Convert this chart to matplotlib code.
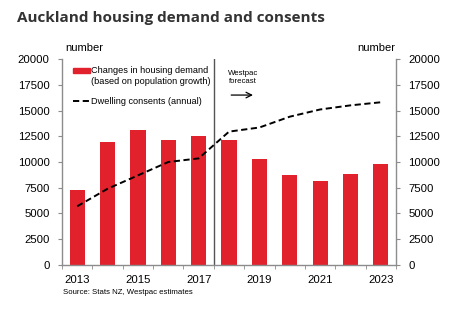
import matplotlib
matplotlib.use("Agg")
import matplotlib.pyplot as plt
from matplotlib.patches import Rectangle
from matplotlib.lines import Line2D

# ====== data ======
years = ["2013", "2014", "2015", "2016", "2017", "2018",
         "2019", "2020", "2021", "2022", "2023"]
demand = [7300, 11900, 13100, 12100, 12500, 12100,
          10300, 8750, 8150, 8800, 9850]
consents = [5700, 7400, 8700, 10000, 10350, 12950,
            13350, 14400, 15100, 15500, 15800]
yticks = [0, 2500, 5000, 7500, 10000, 12500, 15000, 17500, 20000]
forecast_start = 4.5   # split between actuals and forecasts

RED = "#e1222d"
GREY = "#8c8c8c"

plt.rcParams["font.family"] = ["Liberation Sans", "DejaVu Sans"]

fig = plt.figure(figsize=(4.76, 3.23), dpi=100)
ax = fig.add_axes([0.1303, 0.1796, 0.7017, 0.6377])

x = list(range(len(years)))
ax.bar(x, demand, width=0.5, color=RED, zorder=2)
ax.plot(x, consents, color="black", linestyle=(0, (3.2, 1.8)), linewidth=1.4, zorder=3)
ax.axvline(forecast_start, color="#555555", linewidth=1.0, zorder=1)

ax.set_xlim(-0.5, len(years) - 0.5)
ax.set_ylim(0, 20000)

# x axis: labels every other year, tick marks between bars
ax.set_xticks(x[::2])
ax.set_xticklabels(years[::2], fontsize=8.2)
ax.set_xticks([i - 0.5 for i in range(len(years) + 1)], minor=True)
ax.tick_params(axis="x", which="major", length=0, pad=7)
ax.tick_params(axis="x", which="minor", length=3, color=GREY, direction="out")

ax.set_yticks(yticks)
ax.set_yticklabels([str(v) for v in yticks])
ax.tick_params(axis="y", which="both", left=True, right=True,
               labelleft=True, labelright=True, labelsize=8.2,
               length=3, color=GREY, pad=6)

ax.spines["top"].set_visible(False)
for side in ("left", "right", "bottom"):
    ax.spines[side].set_color(GREY)
    ax.spines[side].set_linewidth(1.0)

# unit labels above each axis
ax.text(0.009, 1.055, "number", transform=ax.transAxes, fontsize=8,
        ha="left", va="center")
ax.text(0.997, 1.055, "number", transform=ax.transAxes, fontsize=8,
        ha="right", va="center")

# hand-built legend
ax.add_patch(Rectangle((0.033, 0.931), 0.051, 0.024, transform=ax.transAxes,
                       color=RED, clip_on=False))
ax.text(0.088, 0.945, "Changes in housing demand", transform=ax.transAxes,
        fontsize=6.6, ha="left", va="center")
ax.text(0.088, 0.892, "(based on population growth)", transform=ax.transAxes,
        fontsize=6.6, ha="left", va="center")
ax.add_line(Line2D([0.032, 0.082], [0.794, 0.794], transform=ax.transAxes,
                   color="black", linestyle=(0, (3.2, 1.8)), linewidth=1.4))
ax.text(0.088, 0.794, "Dwelling consents (annual)", transform=ax.transAxes,
        fontsize=6.6, ha="left", va="center")

# forecast marker
ax.text(5.45, 18200, "Westpac\nforecast", fontsize=5.6, ha="center",
        va="center", linespacing=1.3)
ax.annotate("", xy=(5.88, 16500), xytext=(4.98, 16500),
            arrowprops=dict(arrowstyle="->", color="black", lw=0.9))

fig.text(0.036, 0.944, "Auckland housing demand and consents",
         fontsize=11, fontweight="bold", color="#333333",
         family=["Open Sans", "DejaVu Sans"], ha="left", va="center")
fig.text(0.132, 0.093, "Source: Stats NZ, Westpac estimates", fontsize=5.6,
         ha="left", va="center")

fig.savefig("out.png", dpi=100)
